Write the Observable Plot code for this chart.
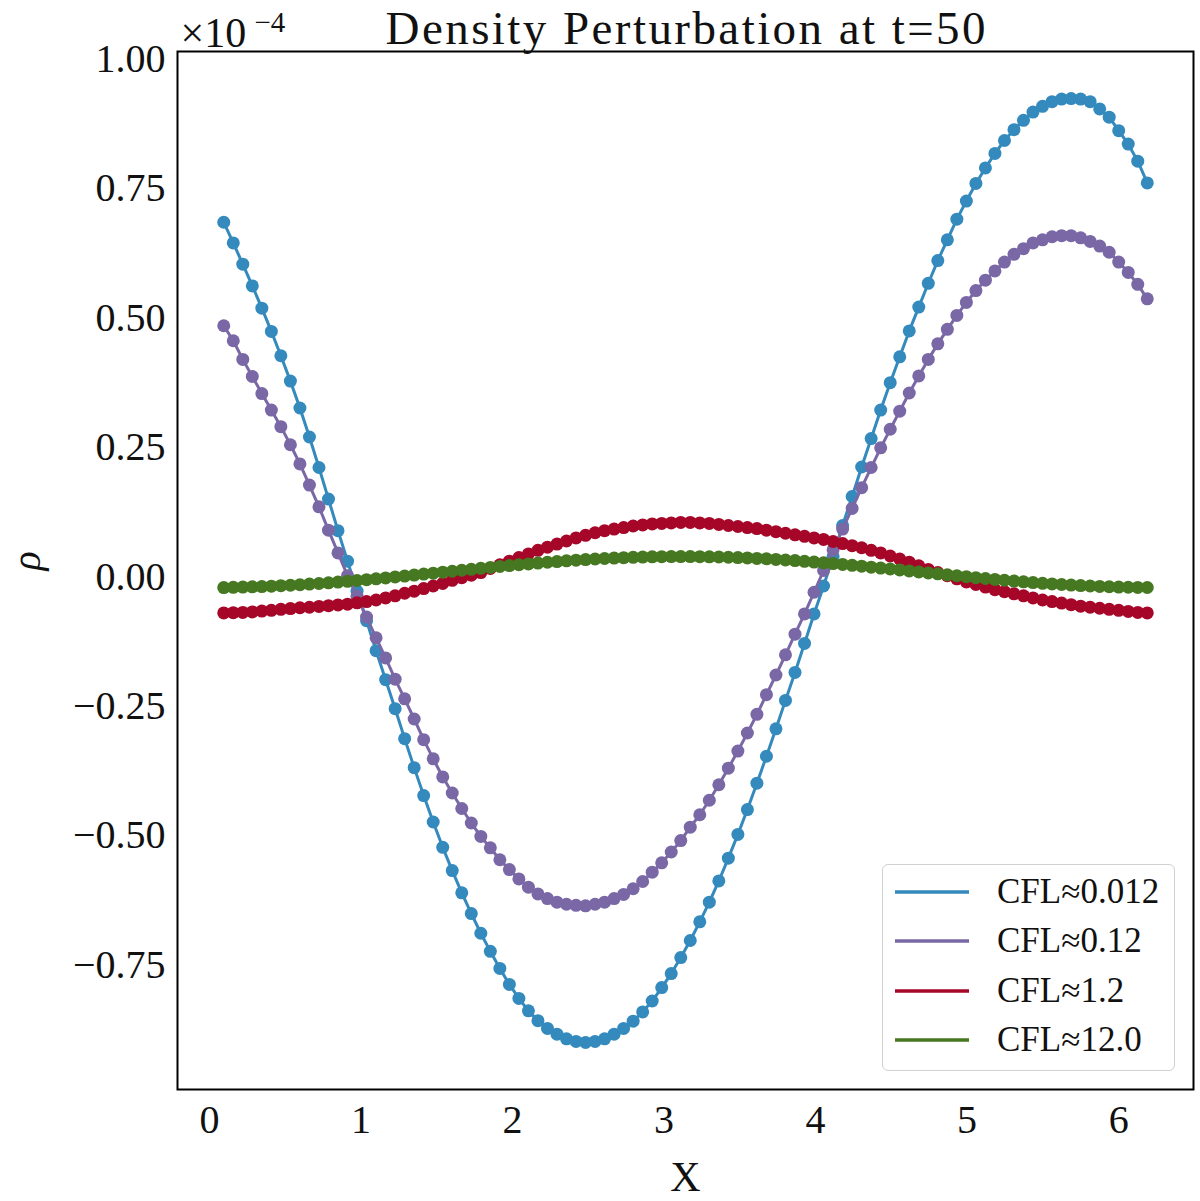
<!DOCTYPE html>
<html>
<head>
<meta charset="utf-8">
<script src="https://cdn.jsdelivr.net/npm/d3@7"></script>
<script src="https://cdn.jsdelivr.net/npm/@observablehq/plot@0.6"></script>
<style>
  body { margin: 0; background: white; }
  #chart { position: relative; width: 1200px; height: 1201px; font-family: "Liberation Serif", "DejaVu Serif", serif; }
  #legend {
    position: absolute; left: 882px; top: 864px; width: 293px; height: 207px;
    border: 1.5px solid #d0d0d0; border-radius: 6px; background: white;
    box-sizing: border-box; padding-top: 2px;
  }
  #legend .row { display: flex; align-items: center; height: 49.5px; }
  #legend svg { margin-left: 12px; margin-right: 28px; }
  #legend span { font-size: 35px; color: #111; }
</style>
</head>
<body>
<div id="chart"></div>
<script>
// grid points along X
const xs = [0.0942,0.1571,0.2199,0.2827,0.3456,0.4084,0.4712,0.5341,0.5969,0.6597,
  0.7226,0.7854,0.8482,0.9111,0.9739,1.0367,1.0996,1.1624,1.2252,1.2881,
  1.3509,1.4137,1.4765,1.5394,1.6022,1.6650,1.7279,1.7907,1.8535,1.9164,
  1.9792,2.0420,2.1049,2.1677,2.2305,2.2934,2.3562,2.4190,2.4819,2.5447,
  2.6075,2.6704,2.7332,2.7960,2.8588,2.9217,2.9845,3.0473,3.1102,3.1730,
  3.2358,3.2987,3.3615,3.4243,3.4872,3.5500,3.6128,3.6757,3.7385,3.8013,
  3.8642,3.9270,3.9898,4.0527,4.1155,4.1783,4.2412,4.3040,4.3668,4.4296,
  4.4925,4.5553,4.6181,4.6810,4.7438,4.8066,4.8695,4.9323,4.9951,5.0580,
  5.1208,5.1836,5.2465,5.3093,5.3721,5.4350,5.4978,5.5606,5.6235,5.6863,
  5.7491,5.8119,5.8748,5.9376,6.0004,6.0633,6.1261,6.1889]

// rho values, in units of 1e-4
const cfl0012 = [0.685,0.645,0.604,0.562,0.519,0.474,0.427,0.378,0.326,0.270,
  0.211,0.150,0.089,0.030,-0.028,-0.085,-0.143,-0.199,-0.255,-0.313,
  -0.369,-0.423,-0.474,-0.523,-0.568,-0.611,-0.651,-0.689,-0.724,-0.757,
  -0.788,-0.815,-0.839,-0.858,-0.873,-0.884,-0.893,-0.898,-0.900,-0.898,
  -0.893,-0.884,-0.873,-0.859,-0.841,-0.820,-0.794,-0.767,-0.736,-0.703,
  -0.667,-0.629,-0.588,-0.544,-0.498,-0.450,-0.399,-0.347,-0.294,-0.239,
  -0.185,-0.129,-0.072,-0.018,0.039,0.099,0.155,0.212,0.267,0.322,
  0.375,0.425,0.475,0.521,0.567,0.611,0.651,0.691,0.726,0.760,
  0.790,0.818,0.843,0.864,0.882,0.898,0.909,0.918,0.923,0.924,
  0.923,0.918,0.904,0.888,0.862,0.836,0.803,0.761]

const cfl012 = [0.485,0.456,0.420,0.387,0.354,0.322,0.290,0.255,0.218,0.177,
  0.135,0.090,0.046,0.002,-0.038,-0.078,-0.118,-0.157,-0.198,-0.236,
  -0.275,-0.315,-0.352,-0.387,-0.418,-0.448,-0.476,-0.502,-0.524,-0.547,
  -0.566,-0.584,-0.600,-0.613,-0.622,-0.629,-0.633,-0.635,-0.636,-0.633,
  -0.629,-0.622,-0.614,-0.603,-0.589,-0.571,-0.553,-0.532,-0.510,-0.484,
  -0.460,-0.432,-0.402,-0.370,-0.337,-0.302,-0.266,-0.228,-0.190,-0.151,
  -0.111,-0.072,-0.030,0.012,0.052,0.092,0.132,0.172,0.211,0.249,
  0.285,0.320,0.355,0.388,0.420,0.450,0.478,0.505,0.530,0.553,
  0.573,0.591,0.608,0.623,0.634,0.645,0.651,0.657,0.659,0.659,
  0.655,0.648,0.639,0.627,0.608,0.588,0.565,0.537]

const cfl12 = [-0.070,-0.0695,-0.069,-0.068,-0.0665,-0.065,-0.063,-0.0615,-0.060,-0.059,
  -0.0575,-0.056,-0.0545,-0.053,-0.0505,-0.048,-0.045,-0.041,-0.037,-0.032,
  -0.028,-0.023,-0.018,-0.013,-0.007,-0.002,0.003,0.008,0.016,0.023,
  0.030,0.037,0.044,0.051,0.057,0.063,0.069,0.075,0.080,0.085,
  0.089,0.092,0.095,0.098,0.100,0.102,0.103,0.104,0.105,0.105,
  0.104,0.103,0.101,0.099,0.097,0.095,0.093,0.090,0.087,0.084,
  0.081,0.078,0.075,0.072,0.068,0.064,0.060,0.056,0.051,0.046,
  0.040,0.034,0.028,0.021,0.014,0.008,0.002,-0.004,-0.010,-0.015,
  -0.020,-0.025,-0.029,-0.033,-0.037,-0.041,-0.045,-0.048,-0.051,-0.054,
  -0.057,-0.059,-0.061,-0.063,-0.065,-0.067,-0.069,-0.070]

const cfl120 = [-0.0210,-0.0205,-0.0201,-0.0196,-0.0190,-0.0183,-0.0174,-0.0165,-0.0155,-0.0143,
  -0.0131,-0.0118,-0.0104,-0.0089,-0.0073,-0.0057,-0.0040,-0.0023,-0.0005,0.0013,
  0.0031,0.0050,0.0068,0.0087,0.0106,0.0125,0.0143,0.0162,0.0180,0.0198,
  0.0215,0.0232,0.0248,0.0264,0.0279,0.0293,0.0307,0.0319,0.0331,0.0342,
  0.0352,0.0360,0.0368,0.0374,0.0380,0.0384,0.0387,0.0389,0.0390,0.0390,
  0.0388,0.0385,0.0381,0.0376,0.0370,0.0363,0.0354,0.0345,0.0334,0.0323,
  0.0311,0.0298,0.0283,0.0269,0.0253,0.0237,0.0220,0.0203,0.0185,0.0167,
  0.0149,0.0131,0.0112,0.0093,0.0074,0.0055,0.0037,0.0018,0.0000,-0.0018,
  -0.0035,-0.0052,-0.0068,-0.0084,-0.0099,-0.0113,-0.0127,-0.0139,-0.0151,-0.0162,
  -0.0172,-0.0180,-0.0188,-0.0194,-0.0200,-0.0204,-0.0207,-0.0209]

const labels = ["CFL≈0.012", "CFL≈0.12", "CFL≈1.2", "CFL≈12.0"]
const colors = ["#348ABD", "#7A68A6", "#A60628", "#467821"]
const xTicks = [0, 1, 2, 3, 4, 5, 6]
const yTicks = [-0.75, -0.5, -0.25, 0, 0.25, 0.5, 0.75, 1]
const title = "Density Perturbation at t=50"

const series = [cfl0012, cfl012, cfl12, cfl120]
const data = series.flatMap((vals, k) => vals.map((v, i) => ({x: xs[i], y: v, s: labels[k]})))

const font = "Liberation Serif, DejaVu Serif, serif"

let chart = Plot.plot({
  width: 1200,
  height: 1201,
  marginLeft: 177,
  marginRight: 7,
  marginTop: 51,
  marginBottom: 112,
  style: {fontFamily: font, background: "white", color: "#111"},
  x: {domain: [-0.211, 6.494]},
  y: {domain: [-0.991, 1.015]},
  color: {domain: labels, range: colors},
  marks: [
    Plot.axisX({ticks: xTicks, tickSize: 0, tickPadding: 15, fontSize: 40, label: null,
      tickFormat: d3.format("d")}),
    Plot.axisY({ticks: yTicks, tickSize: 0, tickPadding: 12, fontSize: 40, label: null,
      tickFormat: d3.format(".2f")}),
    // one line + dots per run, drawn in order
    ...labels.flatMap(l => [
      Plot.line(data.filter(d => d.s == l), {x: "x", y: "y", stroke: "s", strokeWidth: 3}),
      Plot.dot(data.filter(d => d.s == l), {x: "x", y: "y", fill: "s", r: 6.5})
    ]),
    Plot.frame({stroke: "black", strokeWidth: 2}),
    Plot.text([title], {frameAnchor: "top", dy: -8, fontSize: 47, lineAnchor: "bottom"}),
    Plot.text(["×10"], {frameAnchor: "top-left", textAnchor: "start", dx: 3, dy: -18, fontSize: 42, lineAnchor: "middle"}),
    Plot.text(["−4"], {frameAnchor: "top-left", textAnchor: "start", dx: 77, dy: -29, fontSize: 29, lineAnchor: "middle"}),
    Plot.text(["X"], {frameAnchor: "bottom", dy: 101, fontSize: 42, lineAnchor: "bottom"}),
    Plot.text(["ρ"], {frameAnchor: "left", dx: -150, rotate: -90, fontSize: 40, fontStyle: "italic", lineAnchor: "middle"})
  ]
})

// stretch the title to the width it has in the original figure
d3.select(chart).selectAll("text").filter(function() { return this.textContent === title })
  .attr("textLength", 600).attr("lengthAdjust", "spacing")

d3.select('#chart').append(() => chart)

/* legend box in the lower right corner */
const legend = d3.select('#chart').append('div').attr('id', 'legend')
labels.forEach((l, k) => {
  const row = legend.append('div').attr('class', 'row')
  row.append('svg').attr('width', 74).attr('height', 10)
    .append('line').attr('x1', 0).attr('x2', 74).attr('y1', 5).attr('y2', 5)
    .attr('stroke', colors[k]).attr('stroke-width', 3.5)
  row.append('span').text(l)
})
</script>
</body>
</html>
